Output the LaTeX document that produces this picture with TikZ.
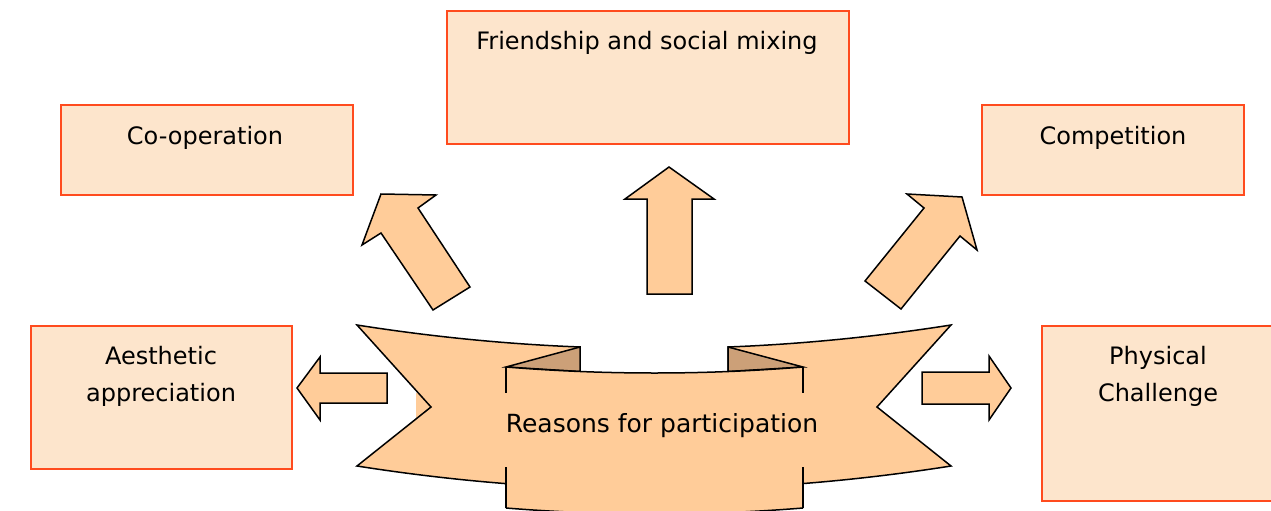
\documentclass[tikz,border=0pt]{standalone}
\usepackage{fontspec}
\setmainfont{DejaVu Sans}
\definecolor{boxfill}{HTML}{FDE5CC}
\definecolor{boxline}{HTML}{FF4B1E}
\definecolor{arrowfill}{HTML}{FFCC99}
\definecolor{folddark}{HTML}{CCA078}
\begin{document}
\begin{tikzpicture}[x=1pt,y=-1pt,
  box/.style={draw=boxline, fill=boxfill, line width=1.8pt, anchor=north west, inner sep=0pt},
  blockarrow/.style={draw=black, fill=arrowfill, line width=1.5pt, line join=miter},
  bannerpart/.style={fill=arrowfill, draw=black, line width=1.5pt, line join=miter},
  bannerline/.style={draw=black, line width=1.5pt},
  lbl/.style={font=\fontsize{24}{37}\selectfont, align=center, inner sep=0pt}]

\useasboundingbox (0,0) rectangle (1271,511);
\clip (0,0) rectangle (1271,511);

% outcome boxes
\node[box, minimum width=402pt, minimum height=133pt] (friend) at (446,10) {};
\node[box, minimum width=292pt, minimum height=90pt]  (coop)   at (60,104) {};
\node[box, minimum width=262pt, minimum height=90pt]  (comp)   at (981,104) {};
\node[box, minimum width=261pt, minimum height=143pt] (aest)   at (30,325) {};
\node[box, minimum width=260pt, minimum height=175pt] (phys)   at (1041,325) {};

\node[lbl] (friendtxt) at (647,43)    {Friendship and social mixing};
\node[lbl] (cooptxt)   at (205,138)   {Co-operation};
\node[lbl] (comptxt)   at (1113,138)  {Competition};
\node[lbl] (aesttxt)   at (161,376)   {Aesthetic\\appreciation};
\node[lbl] (phystxt)   at (1158,376)  {Physical\\Challenge};

% block arrows
\draw[blockarrow] (669,167) -- (714,199) -- (692,199) -- (692,294) -- (647,294) -- (647,199) -- (625,199) -- cycle;
\draw[blockarrow] (297,388) -- (320,357) -- (320,373) -- (387,373) -- (387,403) -- (320,403) -- (320,420) -- cycle;
\draw[blockarrow] (1011,388) -- (989,356) -- (989,372) -- (922,372) -- (922,404) -- (989,404) -- (989,420) -- cycle;
\draw[blockarrow] (381,194) -- (436,195) -- (418,208) -- (470,287) -- (433,310) -- (381,233) -- (362,245) -- cycle;
\draw[blockarrow] (907,194) -- (962,197) -- (977,250) -- (960,236) -- (901,309) -- (865,281) -- (924,208) -- cycle;

% banner: background behind the caption
\fill[arrowfill] (416,393) rectangle (860,467);

% banner: rear ends
\path[bannerpart] (357,325) .. controls (431.3,336.7) and (505.7,344.1) .. (580,347)
  -- (580,488) .. controls (505.7,485.1) and (431.3,477.7) .. (357,466) -- (431,407) -- cycle;
\path[bannerpart] (951,325) .. controls (876.7,336.7) and (802.3,344.1) .. (728,347)
  -- (728,488) .. controls (802.3,485.1) and (876.7,477.7) .. (951,466) -- (877,407) -- cycle;

% banner: folds
\path[bannerpart, fill=folddark] (580,347) -- (506,367) -- (580,371.5) -- cycle;
\path[bannerpart, fill=folddark] (728,347) -- (803,367) -- (728,371.5) -- cycle;

% banner: front panel
\fill[arrowfill] (506,367) .. controls (605,375) and (704,375) .. (803,367)
  -- (803,508) .. controls (704,516) and (605,516) .. (506,508) -- cycle;
\draw[bannerline] (506,367) .. controls (605,375) and (704,375) .. (803,367);
\draw[bannerline] (506,508) .. controls (605,516) and (704,516) .. (803,508);
\draw[bannerline] (506,367) -- (506,393) (506,467) -- (506,508);
\draw[bannerline] (803,367) -- (803,393) (803,467) -- (803,508);

\node[lbl, font=\fontsize{25}{37}\selectfont] (reasons) at (662,426) {Reasons for participation};

\end{tikzpicture}
\end{document}
